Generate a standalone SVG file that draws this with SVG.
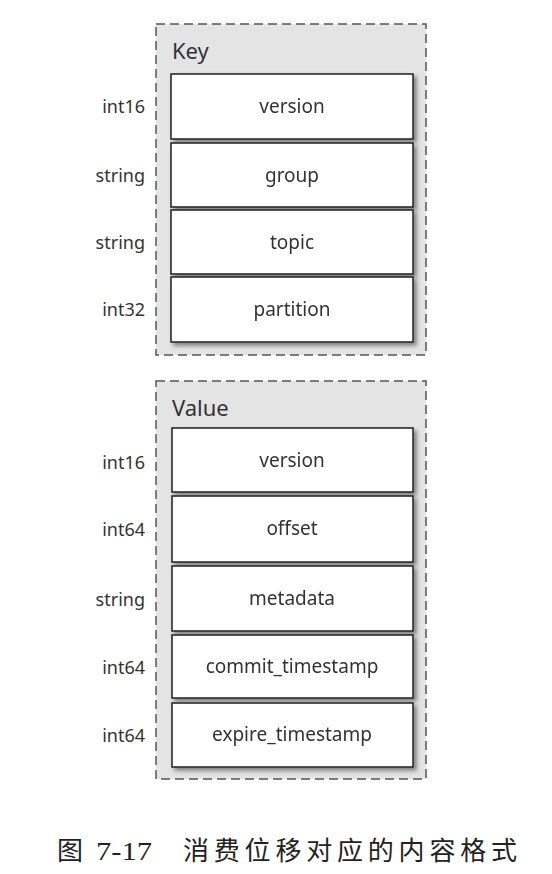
<svg xmlns="http://www.w3.org/2000/svg" width="552" height="874" viewBox="0 0 552 874">
<defs>
<filter id="sh" x="-10%" y="-20%" width="125%" height="150%">
<feGaussianBlur in="SourceAlpha" stdDeviation="2"/>
<feOffset dx="3" dy="3" result="b"/>
<feFlood flood-color="#555" flood-opacity="0.7"/>
<feComposite in2="b" operator="in"/>
<feMerge><feMergeNode/><feMergeNode in="SourceGraphic"/></feMerge>
</filter>
</defs>
<style>
.cont{fill:#e4e4e4;stroke:#555;stroke-width:1.5;stroke-dasharray:9 5}
.box{fill:#fff;stroke:#2a2a2a;stroke-width:1.6}
.lbl{font-family:"Noto Sans","Open Sans",sans-serif;font-size:19px;fill:#333;text-anchor:middle;dominant-baseline:central}
.typ{font-family:"Noto Sans","Open Sans",sans-serif;font-size:18px;fill:#333;text-anchor:end;dominant-baseline:central}
.ttl{font-family:"Noto Sans","Open Sans",sans-serif;font-size:22px;fill:#333;dominant-baseline:central}
.cap{font-family:"Liberation Serif","Noto Sans CJK SC",serif;font-size:26px;fill:#222}
</style>
<rect width="552" height="874" fill="#fff"/>
<g id="key">
<rect class="cont" x="156" y="24" width="270" height="331"/>
<text class="ttl" x="172" y="50">Key</text>
</g>
<g id="key-version" filter="url(#sh)"><rect class="box" x="171" y="74" width="242" height="65"/><text class="lbl" x="292" y="106">version</text></g>
<g id="key-group" filter="url(#sh)"><rect class="box" x="171" y="143" width="242" height="64"/><text class="lbl" x="292" y="175">group</text></g>
<g id="key-topic" filter="url(#sh)"><rect class="box" x="171" y="210" width="242" height="64"/><text class="lbl" x="292" y="242">topic</text></g>
<g id="key-partition" filter="url(#sh)"><rect class="box" x="171" y="277" width="242" height="65"/><text class="lbl" x="292" y="309">partition</text></g>
<g id="key-types">
<text class="typ" x="145" y="106">int16</text>
<text class="typ" x="145" y="175">string</text>
<text class="typ" x="145" y="242">string</text>
<text class="typ" x="145" y="309">int32</text>
</g>
<g id="value">
<rect class="cont" x="156" y="381" width="270" height="398"/>
<text class="ttl" x="172" y="407">Value</text>
</g>
<g id="value-version" filter="url(#sh)"><rect class="box" x="172" y="428" width="241" height="64"/><text class="lbl" x="292" y="460">version</text></g>
<g id="value-offset" filter="url(#sh)"><rect class="box" x="172" y="496" width="241" height="66"/><text class="lbl" x="292" y="528">offset</text></g>
<g id="value-metadata" filter="url(#sh)"><rect class="box" x="172" y="566" width="241" height="65"/><text class="lbl" x="292" y="598">metadata</text></g>
<g id="value-commit" filter="url(#sh)"><rect class="box" x="172" y="635" width="241" height="63"/><text class="lbl" x="292" y="666">commit_timestamp</text></g>
<g id="value-expire" filter="url(#sh)"><rect class="box" x="172" y="703" width="241" height="64"/><text class="lbl" x="292" y="734">expire_timestamp</text></g>
<g id="value-types">
<text class="typ" x="145" y="462">int16</text>
<text class="typ" x="145" y="529">int64</text>
<text class="typ" x="145" y="599">string</text>
<text class="typ" x="145" y="667">int64</text>
<text class="typ" x="145" y="735">int64</text>
</g>
<g id="connectors"/>
<g id="caption">
<text class="cap" x="57" y="860">图</text>
<text class="cap" x="96" y="860" textLength="56" lengthAdjust="spacingAndGlyphs">7-17</text>
<text class="cap" x="183" y="860" textLength="334" lengthAdjust="spacing">消费位移对应的内容格式</text>
</g>
</svg>
